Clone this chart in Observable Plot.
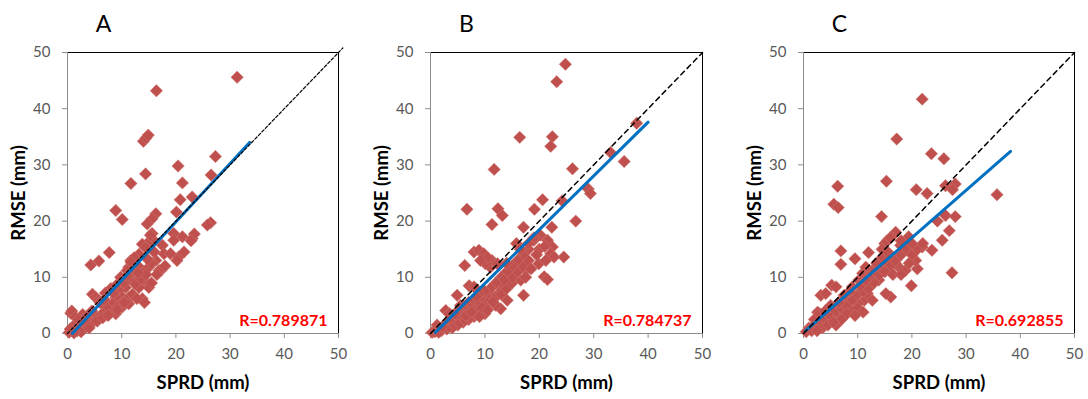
<!DOCTYPE html>
<html><head><meta charset="utf-8">
<script src="https://cdn.jsdelivr.net/npm/d3@7"></script>
<script src="https://cdn.jsdelivr.net/npm/@observablehq/plot@0.6"></script>
<style>
body{margin:0;background:#fff;width:1088px;height:399px;overflow:hidden;position:relative;font-family:Lato,sans-serif}
.panel{position:absolute;top:0}
</style></head><body>
<div id="pa" class="panel" style="left:0px"></div>
<div id="pb" class="panel" style="left:362px"></div>
<div id="pc" class="panel" style="left:730px"></div>
<script>
const axisDomain = [0, 50];
const tickValues = [0, 10, 20, 30, 40, 50];
const xTitle = "SPRD (mm)";
const yTitle = "RMSE (mm)";
const panelLetters = ["A", "B", "C"];
const rLabels = ["R=0.789871", "R=0.784737", "R=0.692855"];

const pointsA = [
 [31.3,45.6],[16.4,43.2],[14.0,34.2],[14.5,34.8],[14.9,35.3],[14.4,28.4],[11.7,26.7],[27.3,31.5],[20.4,29.8],[21.2,26.8],
 [26.5,28.2],[23.0,24.3],[20.8,23.8],[26.4,19.7],[25.8,19.3],[20.1,21.6],[16.3,21.3],[15.6,20.4],[14.7,19.5],[8.9,21.9],
 [10.1,20.3],[7.7,14.4],[4.3,12.2],[5.8,12.9],[21.2,17.2],[19.6,17.8],[19.6,16.6],[23.0,16.9],[23.4,17.7],[17.5,15.7],
 [17.8,14.2],[17.2,11.2],[19.0,14.2],[20.5,13.6],[20.2,13.0],[11.7,13.0],[11.3,11.8],[15.6,17.8],[15.9,16.6],[14.7,16.0],
 [15.3,17.5],[13.8,15.9],[14.4,15.3],[13.2,14.1],[12.3,13.5],[11.7,12.7],[11.0,11.2],[12.3,10.6],[13.8,11.2],[15.0,11.8],
 [16.3,13.0],[16.9,11.2],[14.1,9.5],[15.0,8.2],[13.2,8.2],[13.8,6.2],[14.2,5.5],[12.0,9.5],[10.7,8.2],[9.5,7.6],
 [10.1,6.4],[11.3,6.4],[8.9,6.4],[8.3,5.3],[7.7,4.1],[7.1,4.7],[6.4,3.5],[5.2,2.9],[4.6,7.0],[5.2,6.4],
 [5.8,5.9],[4.0,2.3],[2.8,1.7],[2.1,1.1],[0.9,0.5],[0.3,0.2],[0.6,3.6],[0.8,4.0],[1.5,2.9],[2.8,3.4],
 [1.5,1.7],[10.1,4.7],[11.3,5.3],[8.9,3.5],[8.0,8.0],[9.0,8.6],[7.0,7.2],[6.0,5.5],[3.5,3.0],[4.5,4.0],
 [2.0,2.5],[1.0,1.2],[0.5,0.8],[1.8,0.5],[3.0,0.8],[3.5,1.5],[4.5,1.8],[5.5,2.2],[6.5,2.8],[7.5,3.2],
 [9.5,5.0],[10.5,5.5],[12.0,7.0],[12.5,8.8],[13.5,9.8],[14.5,10.5],[15.5,12.5],[16.0,14.5],[13.0,12.0],[12.0,11.0],
 [10.5,9.0],[9.8,10.0],[11.0,10.2],[15.5,9.0],[16.5,10.5],[18.0,12.0],[21.5,14.5],[22.8,16.5],[3.2,2.2],[2.5,0.3],
 [1.2,0.1],[4.0,1.0],[6.8,6.0],[8.5,7.2],[13.0,10.8],[14.8,13.2],[9.2,4.2],[12.8,6.2]
];
const pointsB = [
 [24.8,47.9],[23.2,44.8],[16.4,34.9],[22.4,35.0],[22.1,33.3],[11.7,29.2],[26.1,29.3],[37.9,37.4],[33.1,32.2],[35.6,30.6],
 [29.0,25.7],[29.4,24.9],[26.7,20.0],[20.6,23.8],[19.1,22.1],[24.2,23.6],[22.3,18.9],[6.7,22.1],[12.4,22.2],[13.2,21.0],
 [11.3,19.4],[17.1,18.9],[19.0,16.6],[20.2,17.5],[21.5,16.6],[22.4,15.4],[22.1,14.2],[24.5,13.6],[22.7,13.6],[19.9,12.4],
 [21.2,13.0],[20.9,10.1],[21.5,9.6],[15.8,16.0],[16.9,13.6],[16.0,11.8],[17.5,11.2],[16.6,9.5],[17.1,6.8],[14.1,5.9],
 [12.9,4.4],[14.7,10.1],[15.3,11.2],[12.9,8.3],[12.6,7.2],[6.3,12.1],[8.0,14.5],[8.9,14.8],[9.8,14.2],[11.0,11.8],
 [11.3,13.0],[12.3,12.4],[10.1,12.4],[7.1,8.5],[8.0,8.3],[4.9,6.8],[2.8,4.1],[1.2,1.5],[0.3,0.2],[0.8,0.3],
 [3,2],[4,2.5],[5,3],[5,4],[6,4],[6,5],[7,4.5],[7,5.5],[8,5],[8,6],
 [9,5.5],[9,4],[10,6],[10,5],[11,6],[11,7],[12,6.5],[12,5],[8,3],[7,2.5],
 [6,2],[5,1.5],[4,1],[3,0.8],[2,0.5],[1.5,0.2],[10,3.5],[9,3],[13,7],[14,8],
 [15,9],[15,10],[16,11],[17,12],[18,13],[18,15],[17,14],[16,13],[15,12],[14,11],
 [13,10],[13.5,9.5],[12,9],[11,8],[10,7.5],[9,7],[8.5,6.5],[17.5,10],[14,12.5],[16.5,15],
 [19,17],[18,16],[20,15],[21,15.5],[19.5,14],[18.5,11.5],[3.5,3.5],[5.5,5],[6.5,3.2],[7.5,3.8],
 [9.5,4.6],[10.5,4.2],[11.5,5.6],[2.2,1.2],[4.5,3.5],[10.5,13.5],[9.2,13.0]
];
const pointsC = [
 [21.9,41.7],[17.2,34.6],[23.6,32.0],[25.9,31.1],[15.3,27.1],[6.3,26.2],[5.6,23.0],[6.4,22.4],[20.8,25.6],[22.8,24.9],
 [26.2,26.3],[28.0,26.6],[27.5,25.6],[35.7,24.7],[14.4,20.8],[24.7,20.0],[26.2,21.0],[28.0,20.8],[26.9,18.3],[25.6,16.6],
 [23.7,14.8],[27.4,10.8],[19.9,8.5],[21.0,11.5],[20.7,13.0],[21.9,15.4],[6.9,14.7],[6.9,12.3],[9.5,13.3],[12.0,14.4],
 [15.5,16.6],[17.0,18.0],[16.2,17.2],[17.9,15.7],[19.1,16.0],[19.4,17.2],[17.6,11.8],[18.8,11.2],[17.0,12.4],[16.1,6.5],
 [15.2,7.1],[3.2,6.8],[2.6,3.8],[5.2,8.6],[6.0,8.3],[4.1,7.1],[10.2,9.5],[10.9,10.7],[11.5,11.8],[12.7,11.2],
 [13.0,10.1],[12.1,8.9],[13.9,9.5],[11.2,5.9],[10.0,5.3],[11.8,7.1],[12.7,5.9],[8.1,6.5],[7.2,5.9],[9.0,8.3],
 [6.6,3.0],[6.0,1.5],[1,1],[2,1.5],[3,2],[4,2.5],[5,3],[0.5,0.3],[1.5,0.5],[2,2.5],
 [3,3.5],[4,4],[5,5],[6,4],[7,4.5],[8,5],[9,6],[10,7],[11,7.5],[12,8],
 [13,9],[14,12],[15,13],[16,14],[16,12],[17,13],[18,14],[15,16],[14.5,15],[16,17],
 [18,16.5],[19,15],[20,14],[21,15],[22,16],[13,11],[12,10],[9,4],[8,3.5],[7,2.5],
 [10,4.5],[11,3.8],[9.5,3.2],[14.5,13.5],[15.5,14.5],[13.5,12.5],[14,10.5],[15,11],[16.5,10.5],[18,10.5],
 [19.5,12.5],[20,16],[3.5,1],[2.5,0.5],[4.5,1.5],[5.5,2],[8.5,7.5],[7.5,6.8],[6.5,5.5],[10.5,8.5],
 [11.5,9.5]
];

const fitA = [[0.9, 0.0], [33.6, 34.0]];
const fitB = [[0.9, 0.2], [40.0, 37.6]];
const fitC = [[0.4, 0.5], [38.2, 32.4]];
const idLineA = [[0, 0], [50.8, 50.8]];
const idLineB = [[0, 0], [50, 50]];
const idLineC = [[0, 0], [50, 50]];

function panel({points, fit, idLine, dash, dashWidth, letter, rLabel, width, mL, mR}) {
  return Plot.plot({
    width, height: 399,
    marginLeft: mL, marginRight: mR, marginTop: 52, marginBottom: 66,
    x: {domain: axisDomain},
    y: {domain: axisDomain},
    style: {fontFamily: "Lato, sans-serif", background: "white", overflow: "visible"},
    marks: [
      Plot.ruleY([axisDomain[1]], {stroke: "#000", strokeWidth: 1}),
      Plot.ruleX([axisDomain[1]], {stroke: "#000", strokeWidth: 1}),
      Plot.ruleX([axisDomain[0]], {stroke: "#8c8c8c", strokeWidth: 1}),
      Plot.ruleY([axisDomain[0]], {stroke: "#8c8c8c", strokeWidth: 1}),
      Plot.axisX({ticks: tickValues, tickSize: 5, tickPadding: 10, fontSize: 15, stroke: "#8c8c8c", fill: "#595959", label: null}),
      Plot.axisY({ticks: tickValues, tickSize: 5, tickPadding: 12, fontSize: 15, stroke: "#8c8c8c", fill: "#595959", label: null}),
      Plot.dot(points, {x: d => d[0], y: d => d[1], symbol: "diamond2", r: 5.6, fill: "#C0504D", stroke: "#d07a77", strokeWidth: 0.5}),
      Plot.line(fit, {x: d => d[0], y: d => d[1], stroke: "#0070C0", strokeWidth: 3}),
      Plot.line(idLine, {x: d => d[0], y: d => d[1], stroke: "#000", strokeWidth: dashWidth, strokeDasharray: dash}),
      Plot.text([letter], {frameAnchor: "top-left", dx: 36, dy: -21, textAnchor: "middle", lineAnchor: "bottom", fontSize: 23, fill: "#000"}),
      Plot.text([yTitle], {frameAnchor: "left", dx: -48, rotate: -90, textAnchor: "middle", lineAnchor: "middle", fontSize: 18.5, fontWeight: "bold", fill: "#000"}),
      Plot.text([xTitle], {frameAnchor: "bottom", dy: 50, textAnchor: "middle", lineAnchor: "middle", fontSize: 18.5, fontWeight: "bold", fill: "#000"}),
      Plot.text([rLabel], {frameAnchor: "bottom-right", dx: -11, dy: -13, textAnchor: "end", lineAnchor: "middle", fontSize: 16, fontWeight: "bold", fill: "#FF0000"})
    ]
  });
}

document.getElementById("pa").append(panel({points: pointsA, fit: fitA, idLine: idLineA, dash: "3,2", dashWidth: 1.2, letter: panelLetters[0], rLabel: rLabels[0], width: 360, mL: 67, mR: 22}));
document.getElementById("pb").append(panel({points: pointsB, fit: fitB, idLine: idLineB, dash: "5,4", dashWidth: 1.5, letter: panelLetters[1], rLabel: rLabels[1], width: 362, mL: 68, mR: 22}));
document.getElementById("pc").append(panel({points: pointsC, fit: fitC, idLine: idLineC, dash: "5,4", dashWidth: 1.5, letter: panelLetters[2], rLabel: rLabels[2], width: 358, mL: 73, mR: 14}));
</script>
</body></html>
